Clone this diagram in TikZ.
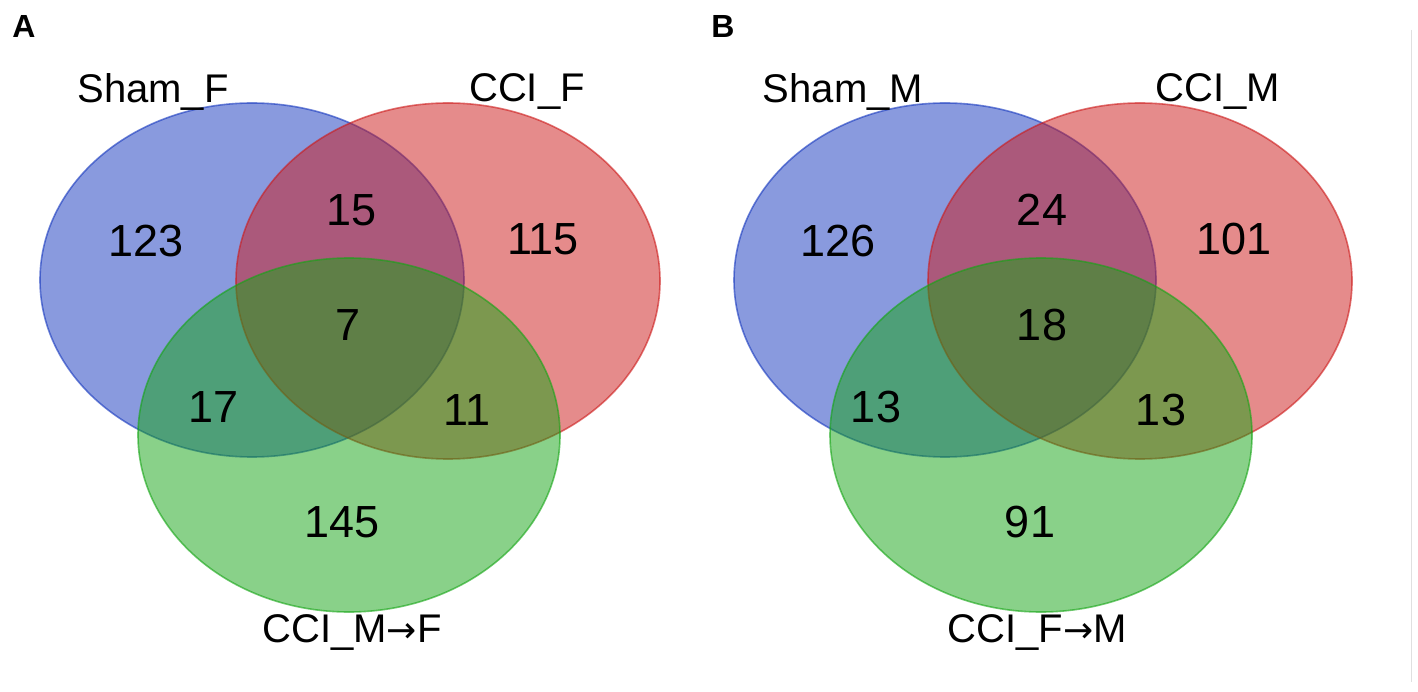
\documentclass[tikz,border=0pt]{standalone}
\usepackage{fontspec}
\setmainfont{Liberation Sans}
\newfontfamily\arrowfont{DejaVu Sans}
\definecolor{vblue}{RGB}{21,55,190}
\definecolor{vred}{RGB}{205,25,25}
\definecolor{vgreen}{RGB}{20,165,20}
\tikzset{
  setA/.style={fill=vblue, fill opacity=0.5, draw=vblue, draw opacity=0.6, line width=1.6pt},
  setB/.style={fill=vred, fill opacity=0.5, draw=vred, draw opacity=0.6, line width=1.6pt},
  setC/.style={fill=vgreen, fill opacity=0.5, draw=vgreen, draw opacity=0.6, line width=1.6pt},
  num/.style={font=\fontsize{45}{45}\selectfont, text=black, inner sep=0pt},
  lab/.style={font=\fontsize{40}{40}\selectfont, text=black, inner sep=0pt},
  panel/.style={font=\fontsize{32}{32}\selectfont\bfseries, text=black, inner sep=0pt}
}
\newcommand{\myarr}{{\arrowfont\fontsize{36}{36}\selectfont →}}
\begin{document}
\begin{tikzpicture}[x=1pt,y=-1pt]
\useasboundingbox (0,0) rectangle (1418,692);
\fill[white] (0,0) rectangle (1418,692);
\draw[black!12, line width=0.8pt] (1411,30) -- (1411,682);
% Panel A
\node[panel] (pA) at (24,26) {A};
\draw[setA] (252,280) ellipse [x radius=212, y radius=177];
\draw[setB] (448,281) ellipse [x radius=212, y radius=178];
\draw[setC] (349,435) ellipse [x radius=211, y radius=177];
\node[lab] (lA1) at (153,92) {Sham\_F};
\node[lab] (lA2) at (527,92) {CCI\_F};
\node[lab] (lA3) at (352,633) {CCI\_M\myarr F};
\node[num] (a1) at (146,241) {123};
\node[num] (a2) at (352,210) {15};
\node[num] (a3) at (543,239) {115};
\node[num] (a4) at (348,325) {7};
\node[num] (a5) at (214,407) {17};
\node[num] (a6) at (467,410) {11};
\node[num] (a7) at (342,522) {145};
% Panel B
\node[panel] (pB) at (723,26) {B};
\draw[setA] (945,280) ellipse [x radius=211, y radius=177];
\draw[setB] (1140,281) ellipse [x radius=212, y radius=178];
\draw[setC] (1041,435) ellipse [x radius=211, y radius=177];
\node[lab] (lB1) at (843,92) {Sham\_M};
\node[lab] (lB2) at (1218,92) {CCI\_M};
\node[lab] (lB3) at (1037,633) {CCI\_F\myarr M};
\node[num] (b1) at (838,241) {126};
\node[num] (b2) at (1042,210) {24};
\node[num] (b3) at (1234,239) {101};
\node[num] (b4) at (1042,325) {18};
\node[num] (b5) at (876,407) {13};
\node[num] (b6) at (1161,410) {13};
\node[num] (b7) at (1030,522) {91};
\end{tikzpicture}
\end{document}
